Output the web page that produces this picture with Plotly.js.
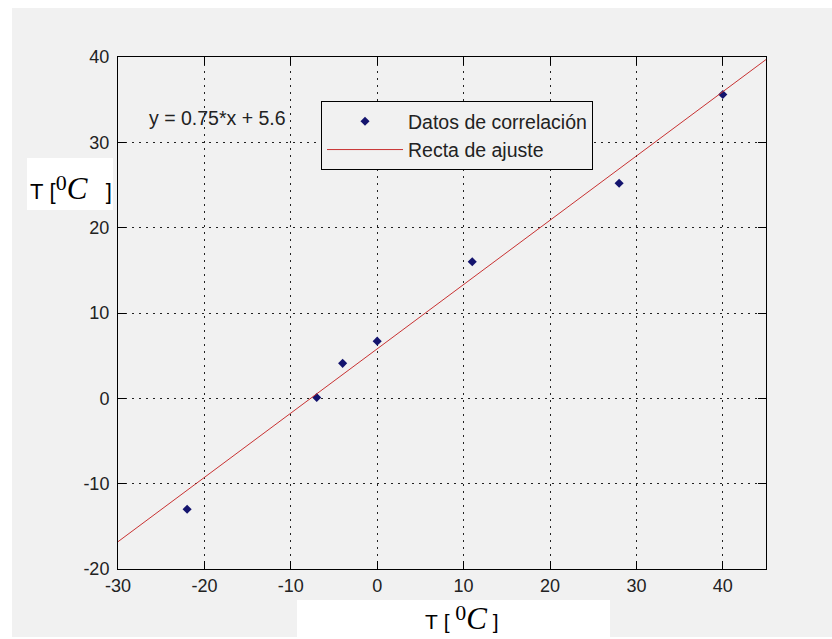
<!DOCTYPE html>
<html>
<head>
<meta charset="utf-8">
<script src="https://cdn.plot.ly/plotly-3.0.1.min.js"></script>
<style>html,body{margin:0;padding:0;background:#fff;}#chart{width:832px;height:639px;}</style>
</head>
<body>
<div id="chart"></div>
<script>
// Data
var corrX = [-22, -7, -4, 0, 11, 28, 40];
var corrY = [-13, 0.1, 4.1, 6.7, 16, 25.2, 35.6];
var fitX = [-30, 45];
var fitY = [-16.8, 39.7];
var xTicks = [-30, -20, -10, 0, 10, 20, 30, 40];
var yTicks = [-20, -10, 0, 10, 20, 30, 40];
var nameData = 'Datos de correlación';
var nameFit = 'Recta de ajuste';
var eqText = 'y = 0.75*x + 5.6';

var GRAY = '#f1f1f1';
var SANS = 'Liberation Sans, Arial, sans-serif';
var SERIF = 'Liberation Serif, Times New Roman, serif';

var traces = [
  {x: corrX, y: corrY, type: 'scatter', mode: 'markers', name: nameData,
   marker: {symbol: 'diamond', size: 7, color: '#14146e'}},
  {x: fitX, y: fitY, type: 'scatter', mode: 'lines', name: nameFit,
   line: {color: '#c83232', width: 1}}
];

var labelHtml = function(gap1, gap1b, gap2){
  return 'T' + gap1 + '[' + gap1b + '<sup><span style="font-family:' + SERIF + ';font-size:22px">0</span></sup>' +
    '<span style="font-family:' + SERIF + ';font-size:31px"><i>C</i></span>' + gap2 + ']';
};

var axisCommon = {
  showline: true, mirror: 'ticks', linecolor: '#000', linewidth: 1,
  ticks: 'inside', ticklen: 8, tickcolor: '#000', tickwidth: 1,
  showgrid: true, gridcolor: '#222', gridwidth: 1, griddash: '2px,5px',
  zeroline: false, tickmode: 'array',
  tickfont: {family: SANS, size: 18, color: '#222'}
};

var layout = {
  width: 832, height: 639,
  margin: {l: 118, r: 66, t: 57, b: 70},
  paper_bgcolor: '#ffffff',
  plot_bgcolor: GRAY,
  showlegend: true,
  xaxis: Object.assign({}, axisCommon, {range: [-30, 45], tickvals: xTicks, ticktext: xTicks.map(String)}),
  yaxis: Object.assign({}, axisCommon, {range: [-20, 40], tickvals: yTicks, ticktext: yTicks.map(String), ticklabelstandoff: 4}),
  legend: {
    x: 0.3133, y: 0.914, xanchor: 'left', yanchor: 'top',
    bgcolor: GRAY, bordercolor: '#000', borderwidth: 1,
    font: {family: SANS, size: 19.5, color: '#222'},
    itemwidth: 76, tracegroupgap: 0
  },
  shapes: [
    {type: 'rect', xref: 'paper', yref: 'paper', x0: -0.1636, x1: 1.1019, y0: -0.1328, y1: 1.0957,
     fillcolor: GRAY, line: {width: 0}, layer: 'below'},
    {type: 'rect', xref: 'paper', yref: 'paper', x0: -0.1404, x1: -0.0077, y0: 0.7012, y1: 0.8027,
     fillcolor: '#ffffff', line: {width: 0}, layer: 'above'},
    {type: 'rect', xref: 'paper', yref: 'paper', x0: 0.2762, x1: 0.7593, y0: -0.1367, y1: -0.0605,
     fillcolor: '#ffffff', line: {width: 0}, layer: 'above'}
  ],
  annotations: [
    {x: -26.6, y: 32.9, xref: 'x', yref: 'y', xanchor: 'left', yanchor: 'middle', showarrow: false,
     text: eqText, font: {family: SANS, size: 19.5, color: '#222'}},
    {x: -0.0725, y: 0.744, xref: 'paper', yref: 'paper', xanchor: 'center', yanchor: 'middle', showarrow: false,
     text: labelHtml('\u00a0', '', '\u00a0\u00a0\u00a0'), font: {family: SANS, size: 22, color: '#000'}},
    {x: 0.5309, y: -0.095, xref: 'paper', yref: 'paper', xanchor: 'center', yanchor: 'middle', showarrow: false,
     text: labelHtml('\u00a0', '\u00a0', '\u00a0'), font: {family: SANS, size: 21, color: '#000'}}
  ]
};

Plotly.newPlot('chart', traces, layout, {displayModeBar: false, staticPlot: true});
</script>
</body>
</html>
